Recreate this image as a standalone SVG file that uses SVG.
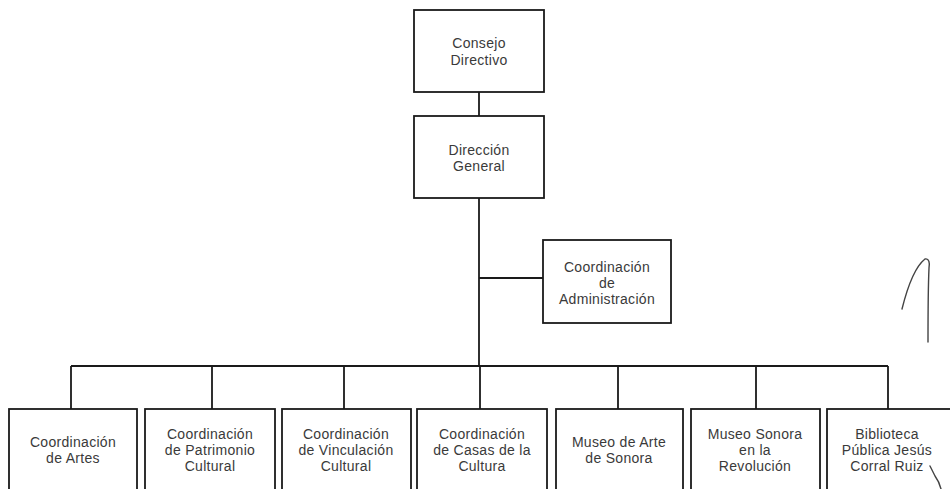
<svg xmlns="http://www.w3.org/2000/svg" width="950" height="489" viewBox="0 0 950 489">
<style>
.box{fill:#fff;stroke:#1a1a1a;stroke-width:1.8}
.ln{fill:none;stroke:#1a1a1a;stroke-width:1.8}
.t{font-family:"Liberation Sans",Arial,sans-serif;font-size:14px;fill:#3a3a3a;text-anchor:middle;letter-spacing:0.3px}
.sig{fill:none;stroke:#444;stroke-width:1.4;stroke-linecap:round}
</style>
<rect width="950" height="489" fill="#fff"/>
<g id="connectors">
<path class="ln" d="M479 92V116"/>
<path class="ln" d="M479 198V366"/>
<path class="ln" d="M479 278H543"/>
<path class="ln" d="M71 366H888"/>
<path class="ln" d="M71 366V409M212 366V409M344 366V409M480 366V409M618 366V409M756 366V409M888 366V409"/>
</g>
<g id="consejo"><rect class="box" x="414" y="10" width="130" height="82"/><text class="t" x="479" y="48">Consejo</text><text class="t" x="479" y="65">Directivo</text></g>
<g id="direccion"><rect class="box" x="414" y="116" width="130" height="82"/><text class="t" x="479" y="155">Dirección</text><text class="t" x="479" y="171">General</text></g>
<g id="administracion"><rect class="box" x="543" y="240" width="128" height="83"/><text class="t" x="607" y="272">Coordinación</text><text class="t" x="607" y="288">de</text><text class="t" x="607" y="304">Administración</text></g>
<g id="artes"><rect class="box" x="9" y="409" width="128" height="100"/><text class="t" x="73" y="447">Coordinación</text><text class="t" x="73" y="463">de Artes</text></g>
<g id="patrimonio"><rect class="box" x="145" y="409" width="130" height="100"/><text class="t" x="210" y="439">Coordinación</text><text class="t" x="210" y="455">de Patrimonio</text><text class="t" x="210" y="471">Cultural</text></g>
<g id="vinculacion"><rect class="box" x="282" y="409" width="129" height="100"/><text class="t" x="346" y="439">Coordinación</text><text class="t" x="346" y="455">de Vinculación</text><text class="t" x="346" y="471">Cultural</text></g>
<g id="casas"><rect class="box" x="417" y="409" width="130" height="100"/><text class="t" x="482" y="439">Coordinación</text><text class="t" x="482" y="455">de Casas de la</text><text class="t" x="482" y="471">Cultura</text></g>
<g id="museo-arte"><rect class="box" x="556" y="409" width="127" height="100"/><text class="t" x="619" y="447">Museo de Arte</text><text class="t" x="619" y="463">de Sonora</text></g>
<g id="museo-revolucion"><rect class="box" x="691" y="409" width="129" height="100"/><text class="t" x="755" y="439">Museo Sonora</text><text class="t" x="755" y="455">en la</text><text class="t" x="755" y="471">Revolución</text></g>
<g id="biblioteca"><rect class="box" x="827" y="409" width="140" height="100"/><text class="t" x="887" y="439">Biblioteca</text><text class="t" x="887" y="455">Pública Jesús</text><text class="t" x="887" y="471">Corral Ruiz</text></g>
<path class="sig" d="M902 309C908 285 916 266 925 259C929 258 930 263 929 268C928 290 928 320 928 342"/>
<path class="sig" d="M930 466L935 476C938 480 940 485 941 489"/>
</svg>
